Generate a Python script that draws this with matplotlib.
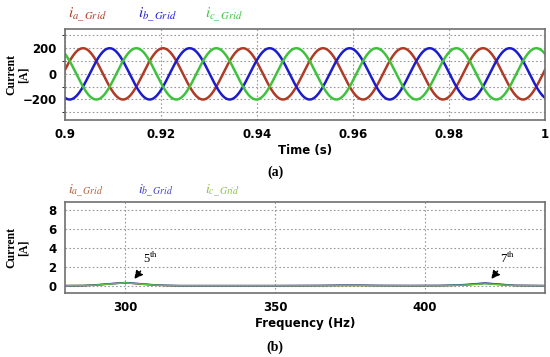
import matplotlib
matplotlib.use("Agg")
import matplotlib.pyplot as plt
import numpy as np

# (a) grid currents, 60 Hz three-phase
amplitude = 200.0          # A
grid_freq = 60.0           # Hz
phase_deg = {"a": 9.0, "b": -111.0, "c": 129.0}
t_start, t_end = 0.9, 1.0

# (b) harmonic spectrum, magnitudes
freq_hz = [280, 286, 290, 294, 298, 300, 302, 306, 310, 314, 318, 330, 350,
           365, 372, 378, 385, 395, 405, 410, 414, 418, 420, 422, 426, 430, 440]
mag_a = [0.02, 0.03, 0.08, 0.18, 0.28, 0.32, 0.28, 0.18, 0.08, 0.04, 0.02, 0.02, 0.02,
         0.03, 0.05, 0.05, 0.03, 0.02, 0.03, 0.06, 0.12, 0.22, 0.26, 0.22, 0.12, 0.04, 0.02]
mag_b = [0.02, 0.03, 0.10, 0.20, 0.30, 0.34, 0.30, 0.20, 0.10, 0.05, 0.02, 0.02, 0.02,
         0.04, 0.07, 0.07, 0.04, 0.03, 0.04, 0.08, 0.15, 0.25, 0.30, 0.25, 0.15, 0.05, 0.02]
mag_c = [0.03, 0.04, 0.08, 0.17, 0.27, 0.33, 0.27, 0.17, 0.08, 0.04, 0.03, 0.03, 0.03,
         0.03, 0.04, 0.04, 0.03, 0.03, 0.03, 0.05, 0.10, 0.18, 0.22, 0.18, 0.10, 0.04, 0.03]

line_colors = {"a": "#b03a26", "b": "#1c1ccc", "c": "#3ec23e"}
label_colors_b = {"a": "#b0603a", "b": "#4040c0", "c": "#8cc040"}

plt.rcParams["mathtext.fontset"] = "stix"

fig = plt.figure(figsize=(5.5, 3.57), dpi=100)
ax1 = fig.add_axes([65 / 550, 1 - 120 / 357, 480 / 550, 91 / 357])
ax2 = fig.add_axes([65 / 550, 1 - 293 / 357, 480 / 550, 91 / 357])

t = np.linspace(t_start, t_end, 2000)
for ph in ["a", "b", "c"]:
    y = amplitude * np.sin(2 * np.pi * grid_freq * t + np.deg2rad(phase_deg[ph]))
    ax1.plot(t, y, color=line_colors[ph], lw=1.8)

ax1.set_xlim(t_start, t_end)
ax1.set_ylim(-360, 350)
ax1.set_xticks([0.9, 0.92, 0.94, 0.96, 0.98, 1.0])
ax1.set_xticklabels(["0.9", "0.92", "0.94", "0.96", "0.98", "1"])
ax1.set_yticks([-200, 0, 200])
ax1.set_yticks([-300, -100, 100, 300], minor=True)
ax1.grid(True, which="both", ls=(0, (1.5, 2)), color="#999999", lw=0.8)
ax1.set_xlabel("Time (s)", fontweight="bold", fontsize=8.5, labelpad=2)

ax2.plot(freq_hz, mag_a, color=line_colors["a"], lw=1.2)
ax2.plot(freq_hz, mag_b, color="#3050b0", lw=1.2)
ax2.plot(freq_hz, mag_c, color="#60c040", lw=1.0)
ax2.set_xlim(280, 440)
ax2.set_ylim(-0.75, 8.85)
ax2.set_xticks([300, 350, 400])
ax2.set_yticks([0, 2, 4, 6, 8])
ax2.grid(True, ls=(0, (1.5, 2)), color="#999999", lw=0.8)
ax2.set_xlabel("Frequency (Hz)", fontweight="bold", fontsize=8.5, labelpad=2)

for ax in (ax1, ax2):
    for s in ax.spines.values():
        s.set_color("#707070")
        s.set_linewidth(1.2)
    ax.tick_params(length=0, labelsize=8.5, pad=6)
    for lab in ax.get_xticklabels() + ax.get_yticklabels():
        lab.set_fontweight("bold")
    ax.set_ylabel("Current\n[A]", family="Liberation Serif", fontweight="bold",
                  fontsize=8.5, linespacing=1.05)
    ax.yaxis.set_label_coords(-0.073, 0.5)

# phase labels above each plot
for ph, x in zip(["a", "b", "c"], [68, 138, 205]):
    fig.text(x / 550, 1 - 15 / 357, r"$\mathit{i}_{%s\_\,Grid}$" % ph,
             color=line_colors[ph], fontsize=11, va="center")
    fig.text(x / 550, 1 - 191 / 357, r"$\mathit{i}_{%s\_\,Grid}$" % ph,
             color=label_colors_b[ph], fontsize=10, va="center")

ax2.annotate(r"5$^{\mathrm{th}}$", xy=(302.5, 0.5), xytext=(306, 2.4),
             fontsize=9, family="Liberation Serif",
             arrowprops=dict(arrowstyle="-|>", color="black", lw=1.0,
                             mutation_scale=12, ls=(0, (2, 1))))
ax2.annotate(r"7$^{\mathrm{th}}$", xy=(421.5, 0.5), xytext=(425, 2.4),
             fontsize=9, family="Liberation Serif",
             arrowprops=dict(arrowstyle="-|>", color="black", lw=1.0,
                             mutation_scale=12, ls=(0, (2, 1))))

fig.text(275 / 550, 1 - 172 / 357, "(a)", ha="center", va="center",
         family="Liberation Serif", fontweight="bold", fontsize=10)
fig.text(275 / 550, 1 - 347 / 357, "(b)", ha="center", va="center",
         family="Liberation Serif", fontweight="bold", fontsize=10)

fig.savefig("out.png", dpi=100)
